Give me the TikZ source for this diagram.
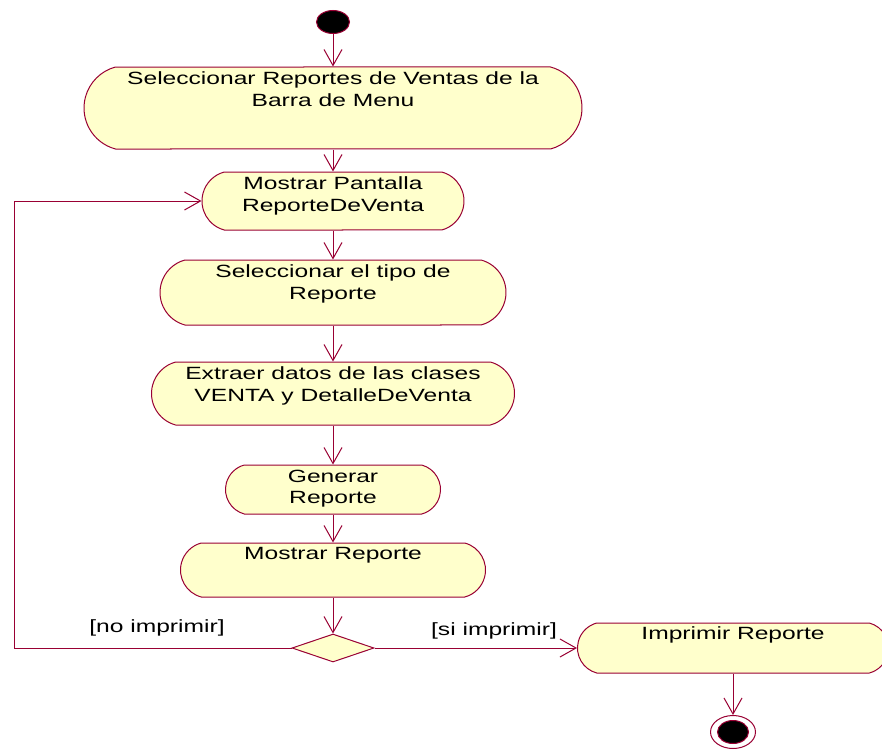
\documentclass[tikz,border=0pt]{standalone}
\usepackage{fontspec}
\newfontfamily\rosefont[FakeStretch=1.39]{Liberation Sans}
\newcommand\rosetext{\rosefont\fontsize{17.7pt}{21.7pt}\selectfont}
\usetikzlibrary{shapes.misc,shapes.geometric,arrows.meta}
\definecolor{edge}{HTML}{990033}
\definecolor{actfill}{HTML}{FFFFCC}

\begin{document}
\begin{tikzpicture}[x=1pt,y=-1pt,
  activity/.style={rounded rectangle, rounded rectangle arc length=150,
    draw=edge, fill=actfill, line width=1pt, inner sep=0pt},
  caption/.style={anchor=north, inner sep=0pt, align=center, font=\rosetext},
  guard/.style={inner sep=0pt, font=\rosetext},
  flow/.style={draw=edge, line width=1pt, line join=miter,
    -{Straight Barb[length=16pt,width=18pt,line width=1pt]}},
  startdot/.style={ellipse, draw=edge, fill=black, line width=1pt, inner sep=0pt,
    minimum width=33pt, minimum height=23pt},
  endring/.style={ellipse, draw=edge, fill=white, line width=1pt, inner sep=0pt,
    minimum width=45pt, minimum height=33pt},
  enddot/.style={ellipse, draw=edge, fill=black, line width=1pt, inner sep=0pt,
    minimum width=31pt, minimum height=23pt},
  choice/.style={diamond, draw=edge, fill=actfill, line width=1pt, inner sep=0pt,
    minimum width=82pt, minimum height=28pt}
]
\clip (0,0) rectangle (882,749);
\fill[white] (0,0) rectangle (882,749);

% initial state
\node[startdot] (start) at (333,22) {};

% activities
\node[activity, minimum width=498pt, minimum height=82pt] (a1) at (333,108) {};
\node[caption] (t1) at ([yshift=-5pt]a1.north) {Seleccionar Reportes de Ventas de la\\Barra de Menu};

\node[activity, minimum width=262pt, minimum height=58pt] (a2) at (333,201) {};
\node[caption] (t2) at ([yshift=-5pt]a2.north) {Mostrar Pantalla\\ReporteDeVenta};

\node[activity, minimum width=346pt, minimum height=65pt] (a3) at (333,292.5) {};
\node[caption] (t3) at ([yshift=-5pt]a3.north) {Seleccionar el tipo de\\Reporte};

\node[activity, minimum width=363pt, minimum height=63pt] (a4) at (333,393.5) {};
\node[caption] (t4) at ([yshift=-5pt]a4.north) {Extraer datos de las clases\\VENTA y DetalleDeVenta};

\node[activity, minimum width=215pt, minimum height=49pt] (a5) at (333,489.5) {};
\node[caption] (t5) at ([yshift=-5pt]a5.north) {Generar\\Reporte};

\node[activity, minimum width=305pt, minimum height=54pt] (a6) at (333,570) {};
\node[caption] (t6) at ([yshift=-5pt]a6.north) {Mostrar Reporte};

% decision
\node[choice] (dec) at (333,648) {};

\node[activity, minimum width=311pt, minimum height=50pt] (a7) at (733,648) {};
\node[caption] (t7) at ([yshift=-4pt]a7.north) {Imprimir Reporte};

% final state
\node[endring] (endo) at (733,732) {};
\node[enddot] (endi) at (733,732) {};

% guards
\node[guard] (gno) at (157,628) {[no imprimir]};
\node[guard] (gsi) at (494,631) {[si imprimir]};

% transitions
\coordinate (loopx) at (14,0);
\draw[flow] (start) -- (a1);
\draw[flow] (a1) -- (a2);
\draw[flow] (a2) -- (a3);
\draw[flow] (a3) -- (a4);
\draw[flow] (a4) -- (a5);
\draw[flow] (a5) -- (a6);
\draw[flow] (a6) -- (dec);
\draw[flow] (dec.west) -- (dec.west -| loopx) |- (a2.west);
\draw[flow] (dec.east) -- (a7.west);
\draw[flow] (a7) -- (endo);
\end{tikzpicture}
\end{document}
